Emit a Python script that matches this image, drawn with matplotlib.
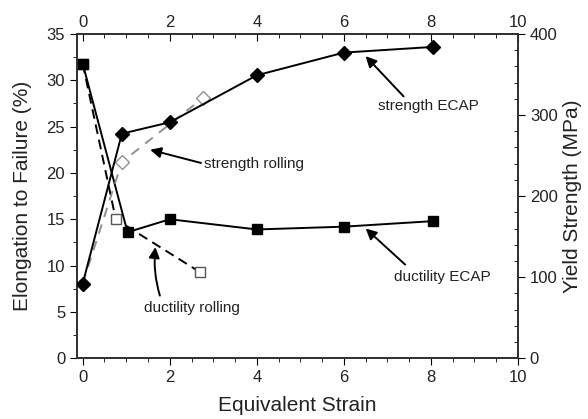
import matplotlib
matplotlib.use("Agg")
import matplotlib.pyplot as plt
from matplotlib.ticker import MultipleLocator

plt.rcParams['font.family'] = ['Liberation Sans', 'DejaVu Sans']

# ECAP ductility (left axis, %)
ecap_duct_x = [0, 1.03, 2.0, 4.0, 6.0, 8.05]
ecap_duct_y = [31.8, 13.6, 15.0, 13.9, 14.2, 14.8]

# ECAP yield strength (right axis, MPa)
ecap_str_x = [0, 0.9, 2.0, 4.0, 6.0, 8.05]
ecap_str_y = [92, 277, 291, 349, 377, 384]

# rolling ductility (left axis, %)
roll_duct_x = [0, 0.76, 2.69]
roll_duct_y = [31.8, 15.0, 9.3]

# rolling yield strength (right axis, MPa)
roll_str_x = [0, 0.9, 2.76]
roll_str_y = [92, 242, 321]

fig = plt.figure(figsize=(5.88, 4.19), dpi=100)
ax = fig.add_axes([0.131, 0.145, 0.750, 0.774])
ax2 = ax.twinx()

txt = '#222222'

# rolling lines first so ECAP sits on top
ax2.plot(roll_str_x, roll_str_y, color='#909090', ls=(0, (5, 4)), lw=1.4,
         marker='D', ms=7, mfc='white', mec='#909090', mew=1.0, zorder=2)
ax.plot(roll_duct_x, roll_duct_y, color='black', ls=(0, (5, 3)), lw=1.4,
        marker='s', ms=6.5, mfc='white', mec='#555555', mew=1.0, zorder=2)

ax.plot(ecap_duct_x, ecap_duct_y, color='black', lw=1.4,
        marker='s', ms=7.5, mfc='black', mec='black', zorder=3)
ax2.plot(ecap_str_x, ecap_str_y, color='black', lw=1.4,
         marker='D', ms=7.5, mfc='black', mec='black', zorder=3)

ax.set_xlim(-0.13, 10)
ax.set_ylim(0, 35)
ax2.set_ylim(0, 400)

ax.xaxis.set_major_locator(MultipleLocator(2))
ax.xaxis.set_minor_locator(MultipleLocator(0.5))
ax.yaxis.set_major_locator(MultipleLocator(5))
ax.yaxis.set_minor_locator(MultipleLocator(2.5))
ax2.yaxis.set_major_locator(MultipleLocator(100))
ax2.yaxis.set_minor_locator(MultipleLocator(20))

# bottom strain axis on ax, top copy on the twin (shared x)
ax.tick_params(axis='x', top=False)
ax.tick_params(which='major', direction='out', length=5, labelsize=12, labelcolor=txt)
ax.tick_params(which='minor', direction='out', length=3)

ax2.xaxis.set_visible(True)
ax2.tick_params(axis='x', which='both', bottom=False, labelbottom=False,
                top=True, labeltop=True, direction='in')
ax2.tick_params(axis='x', which='major', length=5, labelsize=12, labelcolor=txt, pad=3)
ax2.tick_params(axis='x', which='minor', length=3)
ax2.tick_params(axis='y', which='major', direction='out', length=5, labelsize=12, labelcolor=txt)
ax2.tick_params(axis='y', which='minor', direction='in', length=3)

for a in (ax, ax2):
    for s in a.spines.values():
        s.set_linewidth(1.3)
        s.set_color('#333333')

ax.set_xlabel('Equivalent Strain', fontsize=15, color=txt, va='center')
ax.xaxis.set_label_coords(0.5, -0.145)
ax.set_ylabel('Elongation to Failure (%)', fontsize=15, color=txt,
              ha='center', va='center')
ax.yaxis.set_label_coords(-0.123, 0.5)
ax2.set_ylabel('Yield Strength (MPa)', fontsize=15, color=txt,
               ha='center', va='center')
ax2.yaxis.set_label_coords(1.124, 0.5)

arrow = dict(arrowstyle='-|>', color='black', lw=1.4, mutation_scale=16,
             shrinkA=0, shrinkB=0)

ax.annotate('strength ECAP', xy=(6.5, 32.6), xytext=(7.95, 27.2),
            fontsize=11, color=txt, ha='center', va='center',
            arrowprops=dict(arrow, relpos=(0.25, 1.2)))
ax.annotate('strength rolling', xy=(1.55, 22.5), xytext=(2.78, 21.0),
            fontsize=11, color=txt, ha='left', va='center',
            arrowprops=dict(arrow, relpos=(0, 0.5)))
ax.annotate('ductility rolling', xy=(1.67, 12.0), xytext=(2.5, 5.4),
            fontsize=11, color=txt, ha='center', va='center',
            arrowprops=dict(arrow, relpos=(0.17, 1.4),
                            connectionstyle='arc3,rad=-0.1'))
ax.annotate('ductility ECAP', xy=(6.5, 14.0), xytext=(8.25, 8.75),
            fontsize=11, color=txt, ha='center', va='center',
            arrowprops=dict(arrow, relpos=(0.12, 1.4)))

fig.savefig('out.png', dpi=100)
